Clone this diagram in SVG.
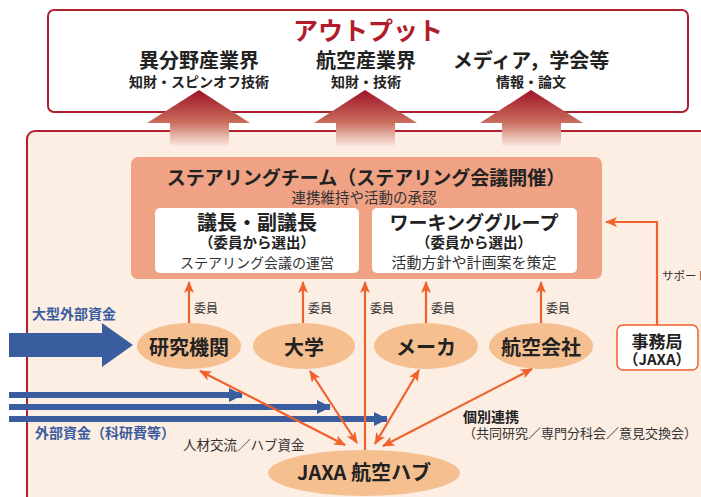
<svg xmlns="http://www.w3.org/2000/svg" width="701" height="497" viewBox="0 0 701 497">
<defs>
<style>
text{font-family:"Noto Sans CJK JP","Noto Sans",sans-serif;}
.b{font-weight:bold;fill:#222;}
.r{fill:#333;}
.bl{font-weight:bold;fill:#3a5da0;}
.o{stroke:#f0622c;stroke-width:2.2;fill:none;}
.ell{fill:#f5bf90;}
</style>
<linearGradient id="up" x1="0" y1="0" x2="0" y2="1">
<stop offset="0" stop-color="#9e1327"/>
<stop offset="0.55" stop-color="#c86a5a"/>
<stop offset="1" stop-color="#fdeee4"/>
</linearGradient>
<marker id="oa" viewBox="0 0 12 10" refX="11" refY="5" markerWidth="12" markerHeight="10" markerUnits="userSpaceOnUse" orient="auto-start-reverse">
<path d="M0,0 L12,5 L0,10 L3,5 z" fill="#f0622c"/>
</marker>
<marker id="ba" viewBox="0 0 14 14" refX="13" refY="7" markerWidth="14" markerHeight="14" markerUnits="userSpaceOnUse" orient="auto">
<path d="M0,0 L14,7 L0,14 z" fill="#3a5da0"/>
</marker>
</defs>

<g id="output-box">
<rect x="48" y="10" width="640" height="102" rx="6" fill="#fff" stroke="#b0202e" stroke-width="2"/>
<text x="368" y="40" font-size="25" font-weight="bold" fill="#b01c2c" text-anchor="middle">アウトプット</text>
<text x="199" y="68" font-size="20" class="b" text-anchor="middle">異分野産業界</text>
<text x="199" y="87" font-size="14" class="b" text-anchor="middle">知財・スピンオフ技術</text>
<text x="366" y="68" font-size="20" class="b" text-anchor="middle">航空産業界</text>
<text x="366" y="87" font-size="14" class="b" text-anchor="middle">知財・技術</text>
<text x="531" y="68" font-size="20" class="b" text-anchor="middle">メディア，学会等</text>
<text x="531" y="87" font-size="14" class="b" text-anchor="middle">情報・論文</text>
</g>

<g id="network-area">
<rect x="27" y="131" width="700" height="400" rx="8" fill="#fdeee4" stroke="#b0202e" stroke-width="2"/>
</g>

<g id="output-arrows">
<polygon points="199,90 250,123 229,123 229,147 170,147 170,123 147,123" fill="url(#up)"/>
<polygon points="365,90 417,123 395,123 395,147 336,147 336,123 314,123" fill="url(#up)"/>
<polygon points="531,90 583,123 561,123 561,147 502,147 502,123 480,123" fill="url(#up)"/>
</g>

<g id="steering-team">
<rect x="131" y="157" width="471" height="122" rx="7" fill="#f0a285"/>
<text x="366" y="185" font-size="19" class="b" text-anchor="middle">ステアリングチーム（ステアリング会議開催）</text>
<text x="364" y="203" font-size="14.5" class="r" text-anchor="middle">連携維持や活動の承認</text>
</g>

<g id="chair">
<rect x="155" y="208" width="204" height="65" rx="5" fill="#fff"/>
<text x="257" y="230" font-size="20" class="b" text-anchor="middle">議長・副議長</text>
<text x="257" y="248" font-size="14.5" class="b" text-anchor="middle">（委員から選出）</text>
<text x="257" y="268" font-size="14" class="r" text-anchor="middle">ステアリング会議の運営</text>
</g>

<g id="working-group">
<rect x="372" y="208" width="205" height="65" rx="5" fill="#fff"/>
<text x="474" y="230" font-size="19" class="b" text-anchor="middle">ワーキンググループ</text>
<text x="474" y="248" font-size="14.5" class="b" text-anchor="middle">（委員から選出）</text>
<text x="474" y="268" font-size="15" class="r" text-anchor="middle">活動方針や計画案を策定</text>
</g>

<g id="external-funding">
<polygon points="9,333 102,333 102,323 133,345 102,367 102,357 9,357" fill="#3a5da0"/>
<text x="32" y="319" font-size="14" class="bl">大型外部資金</text>
<line x1="9" y1="395" x2="242" y2="395" stroke="#3a5da0" stroke-width="6" marker-end="url(#ba)"/>
<line x1="9" y1="407" x2="330" y2="407" stroke="#3a5da0" stroke-width="6" marker-end="url(#ba)"/>
<line x1="9" y1="419" x2="387" y2="419" stroke="#3a5da0" stroke-width="6" marker-end="url(#ba)"/>
<text x="35" y="438" font-size="14" class="bl">外部資金（科研費等）</text>
</g>

<g id="kenkyu">
<ellipse cx="189" cy="346" rx="52" ry="23" class="ell"/>
<text x="189" y="355" font-size="20" class="b" text-anchor="middle">研究機関</text>
</g>
<g id="daigaku">
<ellipse cx="304" cy="346" rx="51" ry="23" class="ell"/>
<text x="304" y="355" font-size="20" class="b" text-anchor="middle">大学</text>
</g>
<g id="maker">
<ellipse cx="426" cy="346" rx="52" ry="23" class="ell"/>
<text x="426" y="355" font-size="20" class="b" text-anchor="middle">メーカ</text>
</g>
<g id="airline">
<ellipse cx="541" cy="346" rx="52" ry="23" class="ell"/>
<text x="541" y="355" font-size="20" class="b" text-anchor="middle">航空会社</text>
</g>

<g id="jaxa-hub">
<ellipse cx="364" cy="473" rx="96" ry="23" class="ell"/>
<text x="364" y="480" font-size="20" class="b" text-anchor="middle">JAXA 航空ハブ</text>
</g>

<g id="secretariat">
<rect x="617" y="325" width="81" height="45" rx="6" fill="#fff" stroke="#f0622c" stroke-width="1.5"/>
<text x="657" y="348" font-size="17" class="b" text-anchor="middle">事務局</text>
<text x="657" y="365" font-size="15" class="b" text-anchor="middle">（JAXA）</text>
</g>

<g id="connectors">
<line x1="189" y1="323" x2="189" y2="282" class="o" marker-end="url(#oa)"/>
<line x1="303" y1="323" x2="303" y2="282" class="o" marker-end="url(#oa)"/>
<line x1="365" y1="450" x2="365" y2="282" class="o" marker-end="url(#oa)"/>
<line x1="426" y1="323" x2="426" y2="282" class="o" marker-end="url(#oa)"/>
<line x1="541" y1="323" x2="541" y2="282" class="o" marker-end="url(#oa)"/>
<line x1="200" y1="371" x2="345" y2="445" class="o" marker-start="url(#oa)" marker-end="url(#oa)"/>
<line x1="310" y1="371" x2="357" y2="443" class="o" marker-start="url(#oa)" marker-end="url(#oa)"/>
<line x1="419" y1="370" x2="375" y2="444" class="o" marker-start="url(#oa)" marker-end="url(#oa)"/>
<line x1="532" y1="369" x2="383" y2="446" class="o" marker-start="url(#oa)" marker-end="url(#oa)"/>
<polyline points="657,325 657,222 606,222" class="o" marker-end="url(#oa)"/>
<text x="194" y="313" font-size="12" class="r">委員</text>
<text x="308" y="313" font-size="12" class="r">委員</text>
<text x="370" y="313" font-size="12" class="r">委員</text>
<text x="431" y="313" font-size="12" class="r">委員</text>
<text x="546" y="313" font-size="12" class="r">委員</text>
<text x="662" y="280" font-size="11.5" class="r">サポート</text>
<text x="183" y="450" font-size="13.5" class="r">人材交流／ハブ資金</text>
<text x="463" y="422" font-size="14" class="b">個別連携</text>
<text x="463" y="438" font-size="13" class="r">（共同研究／専門分科会／意見交換会）</text>
</g>
</svg>
